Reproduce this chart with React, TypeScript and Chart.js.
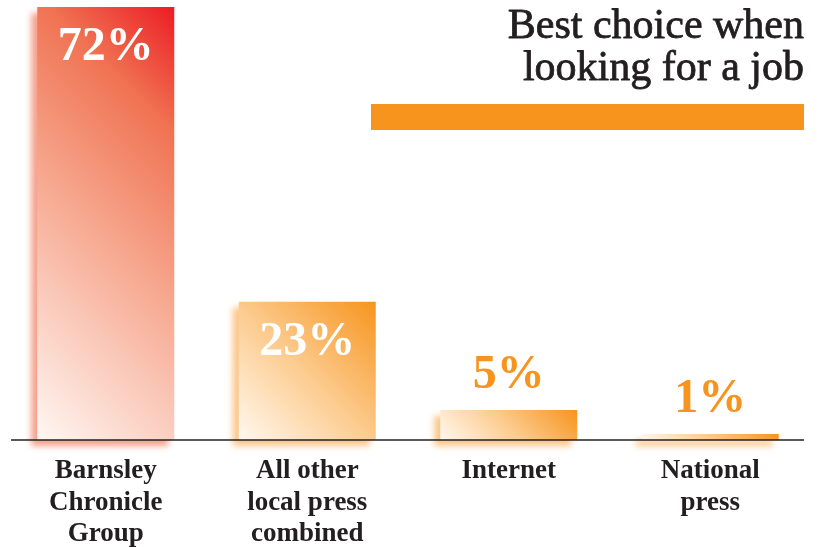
import React, { useEffect, useRef } from "react";
import { Chart, registerables } from "chart.js";

Chart.register(...registerables);

const categories: string[][] = [
  ["Barnsley", "Chronicle", "Group"],
  ["All other", "local press", "combined"],
  ["Internet"],
  ["National", "press"],
];
const values: number[] = [72, 23, 5, 1];
const valueLabels: string[] = ["72%", "23%", "5%", "1%"];
const titleLines: string[] = ["Best choice when", "looking for a job"];

const RED = "#EC1C24";
const ORANGE = "#F7941E";
const DARK = "#231F20";
const SERIF = "'Liberation Serif', 'Times New Roman', serif";
const BAR_PCT = 0.68;

const redStops: [number, string][] = [
  [0, "#FFF7F3"],
  [0.45, "#F7AC94"],
  [0.78, "#F07252"],
  [1, RED],
];
const orangeStops: [number, string][] = [
  [0, "#FFF8EF"],
  [0.5, "#FCCA8C"],
  [1, ORANGE],
];

const decorPlugin = {
  id: "decor",
  beforeDatasetsDraw(chart: any) {
    const ctx = chart.ctx;
    const meta = chart.getDatasetMeta(0);
    meta.data.forEach((bar: any, i: number) => {
      const { x, y, base, width } = bar.getProps(["x", "y", "base", "width"], true);
      ctx.save();
      ctx.filter = "blur(3px)";
      ctx.fillStyle = i === 0 ? "rgba(240,110,80,0.65)" : "rgba(249,160,60,0.6)";
      ctx.fillRect(x - width / 2 - 6, y + 6, width, base - y);
      ctx.restore();
    });
  },
  afterDatasetsDraw(chart: any) {
    const ctx = chart.ctx;
    const area = chart.chartArea;
    // baseline rule
    ctx.save();
    ctx.strokeStyle = DARK;
    ctx.lineWidth = 1.5;
    ctx.beginPath();
    ctx.moveTo(area.left + 6, area.bottom);
    ctx.lineTo(area.right - 7, area.bottom);
    ctx.stroke();
    ctx.restore();

    // value labels
    const meta = chart.getDatasetMeta(0);
    meta.data.forEach((bar: any, i: number) => {
      const { x, y } = bar.getProps(["x", "y"], true);
      ctx.save();
      ctx.font = `bold 48px ${SERIF}`;
      ctx.textAlign = "center";
      ctx.textBaseline = "alphabetic";
      if (values[i] >= 20) {
        ctx.fillStyle = "#FFFFFF";
        ctx.fillText(valueLabels[i], x, y + 53);
      } else {
        ctx.fillStyle = ORANGE;
        ctx.fillText(valueLabels[i], x, y - 22);
      }
      ctx.restore();
    });

    // title + orange band
    const right = area.right - 7;
    ctx.save();
    ctx.font = `42px ${SERIF}`;
    ctx.fillStyle = DARK;
    ctx.strokeStyle = DARK;
    ctx.lineWidth = 0.8;
    ctx.lineJoin = "round";
    ctx.textAlign = "right";
    ctx.textBaseline = "alphabetic";
    titleLines.forEach((line, k) => {
      const yy = 38 + k * 42;
      ctx.fillText(line, right, yy);
      ctx.strokeText(line, right, yy);
    });
    ctx.fillStyle = ORANGE;
    ctx.fillRect(right - 433, 104, 433, 26);
    ctx.restore();
  },
};

export default function App() {
  const canvasRef = useRef<HTMLCanvasElement | null>(null);

  useEffect(() => {
    document.body.style.margin = "0";
    const canvas = canvasRef.current;
    if (!canvas) return;

    const chart = new Chart(canvas, {
      type: "bar",
      data: {
        labels: categories,
        datasets: [
          {
            data: values,
            barPercentage: BAR_PCT,
            categoryPercentage: 1,
            borderWidth: 0,
            clip: false as any,
            backgroundColor: (c: any) => {
              const fallback = c.dataIndex === 0 ? RED : ORANGE;
              if (c.type !== "data") return fallback;
              const ch = c.chart;
              const xs = ch.scales.x;
              const ys = ch.scales.y;
              if (!xs || !ys || !ch.chartArea) return fallback;
              const cx = xs.getPixelForValue(c.dataIndex);
              const w = (xs.width / categories.length) * BAR_PCT;
              const left = cx - w / 2;
              const top = ys.getPixelForValue(c.raw);
              const base = ys.getPixelForValue(0);
              const h = base - top;
              const d = (w + h) / 2;
              const g = ch.ctx.createLinearGradient(left, base, left + d, base - d);
              const stops = c.dataIndex === 0 ? redStops : orangeStops;
              stops.forEach(([o, col]) => g.addColorStop(o, col));
              return g;
            },
          },
        ],
      },
      options: {
        animation: false,
        responsive: true,
        maintainAspectRatio: false,
        layout: { padding: { left: 5, right: 7, top: 7, bottom: 0 } },
        plugins: {
          legend: { display: false },
          tooltip: { enabled: false },
          title: { display: false },
        },
        scales: {
          x: {
            grid: { display: false, drawTicks: false },
            border: { display: false },
            ticks: {
              color: DARK,
              padding: 16,
              maxRotation: 0,
              autoSkip: false,
              font: { family: SERIF, size: 27, weight: "bold", lineHeight: 1.15 },
            },
            afterFit: (axis: any) => {
              axis.height = 107;
            },
          },
          y: {
            display: false,
            min: 0,
            max: 72,
          },
        },
      },
      plugins: [decorPlugin],
    });

    return () => chart.destroy();
  }, []);

  return (
    <div style={{ width: 818, height: 547, position: "relative", background: "#FFFFFF" }}>
      <canvas ref={canvasRef} />
    </div>
  );
}
